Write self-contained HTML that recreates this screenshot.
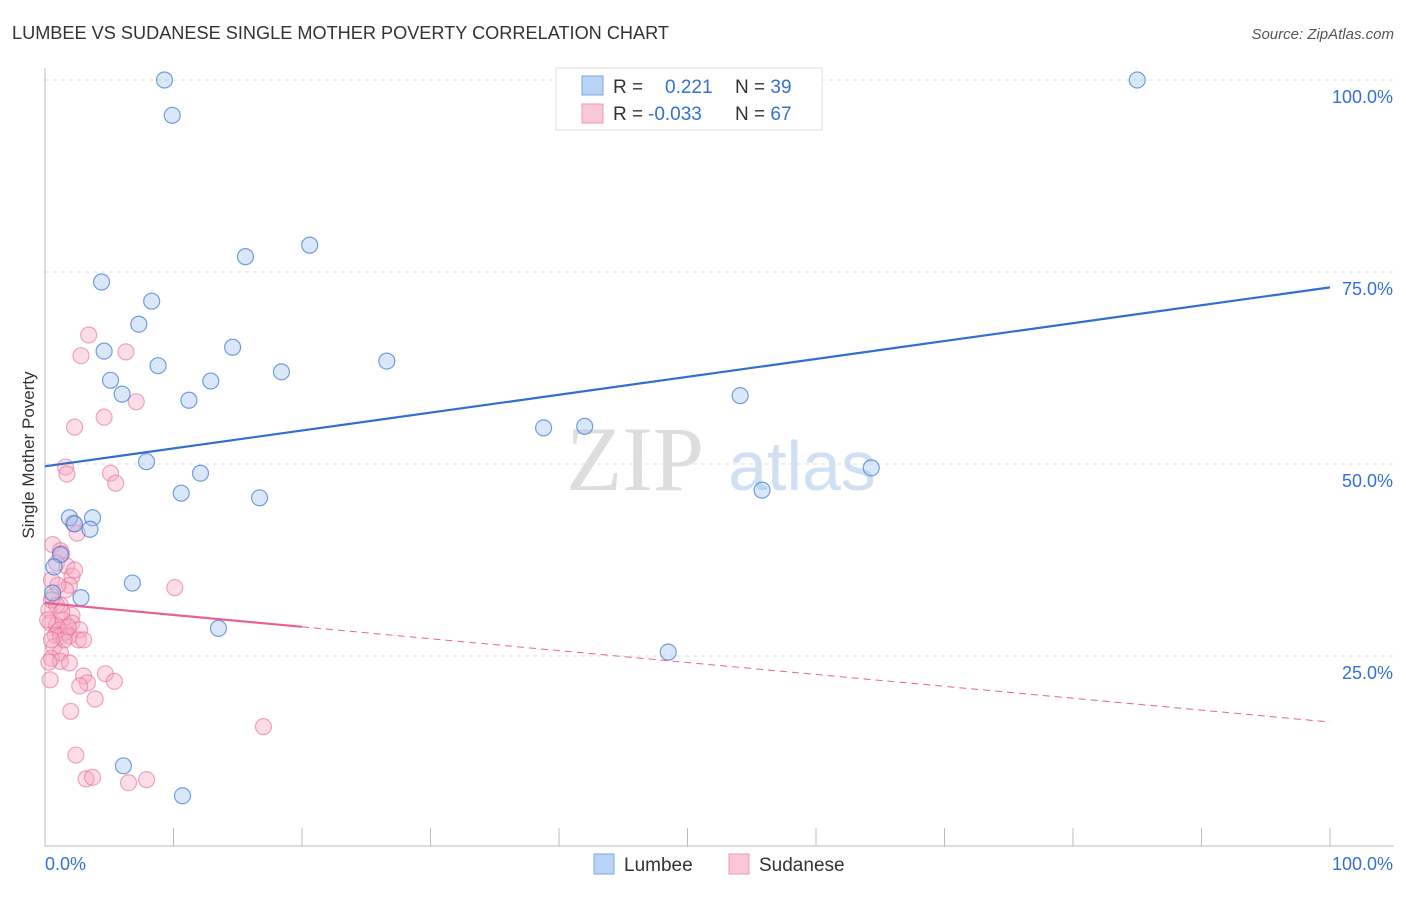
<!DOCTYPE html>
<html><head><meta charset="utf-8"><style>
body{margin:0;background:#fff;font-family:"Liberation Sans",sans-serif}
</style></head><body>
<svg id="c" width="1406" height="892" xmlns="http://www.w3.org/2000/svg">
<text x="12" y="39" font-size="18" fill="#333" textLength="657" lengthAdjust="spacingAndGlyphs">LUMBEE VS SUDANESE SINGLE MOTHER POVERTY CORRELATION CHART</text>
<text x="1394" y="39" font-size="15" fill="#555" text-anchor="end" font-style="italic">Source: ZipAtlas.com</text>
<text x="34" y="455" font-size="17" fill="#333" transform="rotate(-90 34 455)" text-anchor="middle">Single Mother Poverty</text>
<g id="grid"></g>
<text x="635" y="490" font-size="92" fill="#ddd" font-family="Liberation Serif" text-anchor="middle">ZIP</text>
<text x="802" y="490" font-size="70" fill="#cfe0f3" text-anchor="middle">atlas</text>
<g id="pts"></g>
<g id="lines"></g>
<g>
<rect x="556" y="68" width="266" height="62" fill="#fff" stroke="#ddd"/>
<rect x="582" y="76" width="21" height="19" fill="#b8d3f5" stroke="#7aa6e0"/>
<rect x="582" y="104" width="21" height="19" fill="#f9c8d6" stroke="#ec9ab3"/>
<text x="613" y="93" font-size="19" fill="#333">R = <tspan fill="#3370d4" x="665">0.221</tspan><tspan fill="#333" x="735">N = </tspan><tspan fill="#3370d4">39</tspan></text>
<text x="613" y="120" font-size="19" fill="#333">R = <tspan fill="#3370d4" x="648">-0.033</tspan><tspan fill="#333" x="735">N = </tspan><tspan fill="#3370d4">67</tspan></text>
</g>
<g>
<rect x="594" y="854" width="20" height="20" fill="#b8d3f5" stroke="#7aa6e0"/>
<text x="624" y="871" font-size="19" fill="#333">Lumbee</text>
<rect x="729" y="854" width="20" height="20" fill="#f9c8d6" stroke="#ec9ab3"/>
<text x="759" y="871" font-size="19" fill="#333">Sudanese</text>
</g>
</svg>
<script>
const blueX=[9.3,85.0,9.9,20.6,15.6,4.4,8.3,7.3,14.6,4.6,8.8,26.6,5.1,12.9,18.4,6.0,11.2,54.1,38.8,42.0,7.9,64.3,12.1,10.6,16.7,55.8,1.9,3.7,2.3,3.5,1.2,0.7,6.8,0.6,2.8,13.5,48.5,6.1,10.7];
const blueY=[100,100,95.4,78.5,77.0,73.7,71.2,68.2,65.2,64.7,62.8,63.4,60.9,60.8,62.0,59.1,58.3,58.9,54.7,54.9,50.3,49.5,48.8,46.2,45.6,46.6,43.0,43.0,42.2,41.5,38.2,36.6,34.5,33.2,32.6,28.6,25.5,10.7,6.8];
const pinkX=[3.4,2.8,6.3,7.1,4.6,2.3,1.6,1.7,5.1,5.5,2.2,2.5,0.6,1.2,1.3,0.9,1.7,2.1,0.5,1.9,10.1,0.6,1.2,0.3,2.1,1.4,0.4,0.9,2.1,1.1,2.7,1.6,0.8,1.2,1.9,2.6,0.7,1.2,0.5,1.2,0.3,1.9,4.7,3.0,3.3,5.4,2.7,3.9,2.0,17.0,2.4,3.2,3.7,6.5,7.9,0.5,0.2,0.9,1.5,0.5,1.6,2.3,1.0,1.3,1.8,3.0,0.4];
const pinkY=[66.8,64.1,64.6,58.1,56.1,54.8,49.6,48.7,48.8,47.5,42.3,41.0,39.5,38.7,38.3,37.1,36.7,35.4,34.9,34.2,33.9,32.7,31.6,31.0,30.3,29.7,29.3,29.0,29.3,28.4,28.4,28.1,27.7,27.6,27.6,27.1,26.2,25.4,24.7,24.3,24.2,24.1,22.7,22.4,21.5,21.7,21.1,19.4,17.8,15.8,12.1,9.0,9.2,8.5,8.9,32.3,29.7,31.6,27.1,27.1,33.6,36.2,34.2,30.7,28.8,27.1,21.9];
const yTicks=[25,50,75,100];
const xTickVals=[0,10,20,30,40,50,60,70,80,90,100];
const blueTrend=[49.7,73.0];
const pinkTrend=[31.9,16.4];
const pinkSolidEnd=20;
const NS="http://www.w3.org/2000/svg";
const sx=v=>45+v*12.85, sy=v=>848-v*7.68;
function mk(tag,attrs,parent){const e=document.createElementNS(NS,tag);for(const k in attrs)e.setAttribute(k,attrs[k]);parent.appendChild(e);return e;}
const grid=document.getElementById('grid');
yTicks.forEach(t=>{
 const l=mk('line',{x1:45,x2:1394,y1:sy(t),y2:sy(t),stroke:'#ddd','stroke-dasharray':'4,4'},grid);
 
 
 const tx=mk('text',{x:1393,y:sy(t)+23,'font-size':18,fill:'#3370d4','text-anchor':'end'},grid);
 tx.textContent=t.toFixed(1)+'%';
 
 
});
const ax=mk('line',{x1:45,x2:1394,y1:846,y2:846,stroke:'#bbb'},grid);


const ay=mk('line',{x1:45,x2:45,y1:68,y2:846,stroke:'#bbb'},grid);


xTickVals.forEach(t=>{
 const l=mk('line',{x1:sx(t),x2:sx(t),y1:828,y2:846,stroke:'#bbb'},grid);
 
 
});
[[0,'start',45],[100,'end',1393]].forEach(([v,a,x])=>{
 const tx=mk('text',{x:x,y:870,'font-size':18,fill:'#3370d4','text-anchor':a},grid);
 tx.textContent=v.toFixed(1)+'%';
 
 
});
const pts=document.getElementById('pts');
pinkX.forEach((x,i)=>{
 const c=mk('circle',{cx:sx(x),cy:sy(pinkY[i]),r:8,fill:'rgba(246,170,195,0.4)',stroke:'rgba(232,110,150,0.6)','stroke-width':1.2},pts);
 
 
});
blueX.forEach((x,i)=>{
 const c=mk('circle',{cx:sx(x),cy:sy(blueY[i]),r:8,fill:'rgba(160,196,240,0.4)',stroke:'rgba(60,120,210,0.7)','stroke-width':1.2},pts);
 
 
});
const lines=document.getElementById('lines');
const bl=mk('line',{x1:sx(0),y1:sy(blueTrend[0]),x2:sx(100),y2:sy(blueTrend[1]),stroke:'#2f6fd0','stroke-width':2.2},lines);


const pAt=x=>pinkTrend[0]+(pinkTrend[1]-pinkTrend[0])*x/100;
const ps=mk('line',{x1:sx(0),y1:sy(pAt(0)),x2:sx(pinkSolidEnd),y2:sy(pAt(pinkSolidEnd)),stroke:'#e8628f','stroke-width':2.2},lines);


const pd=mk('line',{x1:sx(pinkSolidEnd),y1:sy(pAt(pinkSolidEnd)),x2:sx(100),y2:sy(pAt(100)),stroke:'#e8628f','stroke-width':1,'stroke-dasharray':'7,5'},lines);


</script>
</body></html>
